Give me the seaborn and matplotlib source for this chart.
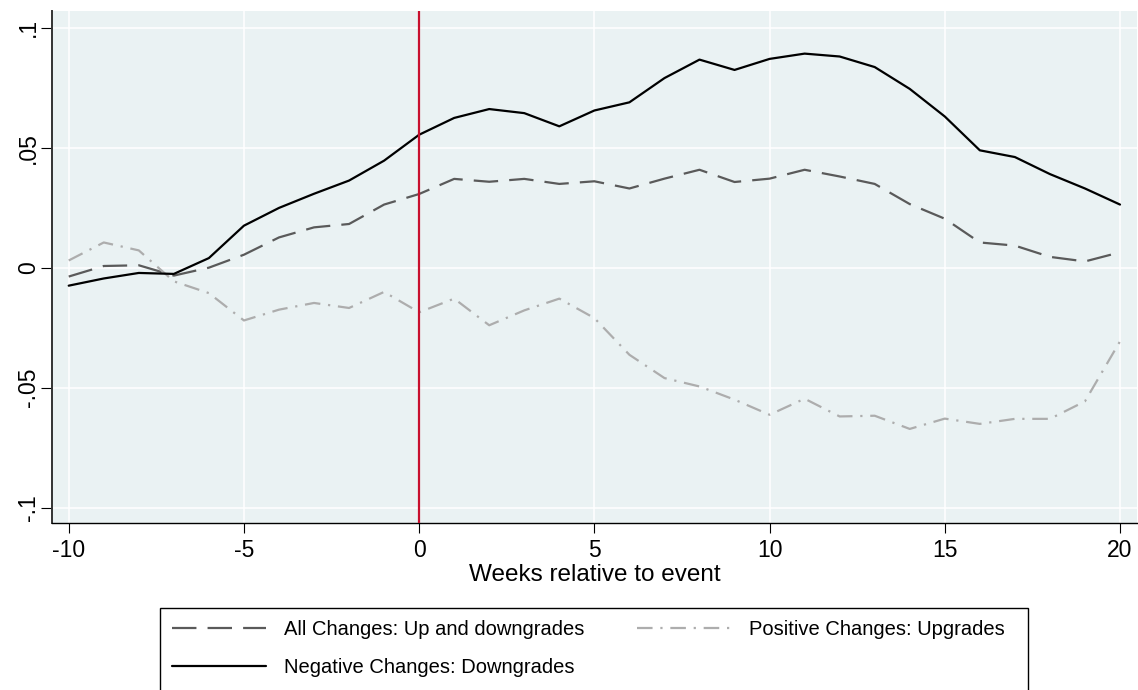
import matplotlib
matplotlib.use("Agg")
import matplotlib.pyplot as plt
from matplotlib.patches import Rectangle
import seaborn as sns
import pandas as pd

# ---- data ----
weeks = list(range(-10, 21))
all_changes = [-0.0037, 0.0007, 0.0010, -0.0033, 0.0000, 0.0054, 0.0126, 0.0168, 0.0182, 0.0263,
               0.0307, 0.0370, 0.0358, 0.0370, 0.0349, 0.0360, 0.0330, 0.0371, 0.0408, 0.0357,
               0.0371, 0.0408, 0.0380, 0.0349, 0.0265, 0.0204, 0.0105, 0.0092, 0.0045, 0.0026,
               0.0064]
positive_changes = [0.0030, 0.0105, 0.0072, -0.0057, -0.0106, -0.0220, -0.0175, -0.0147, -0.0168,
                    -0.0101, -0.0186, -0.0129, -0.0240, -0.0178, -0.0129, -0.0210, -0.0363,
                    -0.0460, -0.0495, -0.0550, -0.0613, -0.0546, -0.0620, -0.0617, -0.0672,
                    -0.0629, -0.0651, -0.0630, -0.0630, -0.0557, -0.0307]
negative_changes = [-0.0075, -0.0045, -0.0022, -0.0026, 0.0040, 0.0175, 0.0249, 0.0308, 0.0363,
                    0.0446, 0.0554, 0.0624, 0.0661, 0.0644, 0.0589, 0.0655, 0.0689, 0.0790,
                    0.0867, 0.0824, 0.0870, 0.0892, 0.0880, 0.0836, 0.0745, 0.0630, 0.0489,
                    0.0461, 0.0390, 0.0330, 0.0263]

labels = ["All Changes: Up and downgrades",
          "Positive Changes: Upgrades",
          "Negative Changes: Downgrades"]
xticks = [-10, -5, 0, 5, 10, 15, 20]
yticks = [0.1, 0.05, 0.0, -0.05, -0.1]
yticklabels = [".1", ".05", "0", "-.05", "-.1"]
xlabel = "Weeks relative to event"
event_week = 0

# ---- style ----
sns.set_theme(style="white")
plt.rcParams["font.family"] = ["Liberation Sans", "DejaVu Sans"]
plt.rcParams["text.color"] = "black"
plt.rcParams["axes.labelcolor"] = "black"
plt.rcParams["xtick.color"] = "black"
plt.rcParams["ytick.color"] = "black"

fig = plt.figure(figsize=(11.38, 6.90), dpi=100)
ax = fig.add_axes([52 / 1138, 1 - 523 / 690, (1137 - 52) / 1138, (523 - 11) / 690])
ax.set_facecolor("#EAF2F3")

df = pd.DataFrame({"week": weeks, "all": all_changes,
                   "pos": positive_changes, "neg": negative_changes})

sns.lineplot(data=df, x="week", y="all", ax=ax, color="#5a5a5a", linewidth=1.6,
             linestyle=(0, (11, 5)), label=labels[0], errorbar=None, zorder=3)
sns.lineplot(data=df, x="week", y="pos", ax=ax, color="#adadad", linewidth=1.6,
             linestyle=(0, (7, 3.5, 1, 3.5)), label=labels[1], errorbar=None, zorder=3)
sns.lineplot(data=df, x="week", y="neg", ax=ax, color="black", linewidth=1.6,
             linestyle="-", label=labels[2], errorbar=None, zorder=4)

ax.axvline(event_week, color="#C8102E", linewidth=1.6, zorder=5)

ax.set_xlim(-10.477, 20.485)
ax.set_ylim(-0.1064, 0.10696)
ax.set_xticks(xticks)
ax.set_xticklabels([str(v) for v in xticks])
ax.set_yticks(yticks)
ax.set_yticklabels(yticklabels, rotation=90, va="center")

ax.grid(True, color="white", linewidth=1.1)
ax.set_axisbelow(True)

for s in ["top", "right"]:
    ax.spines[s].set_visible(False)
ax.spines["left"].set_color("#333333")
ax.spines["left"].set_linewidth(1.4)
ax.spines["bottom"].set_color("black")
ax.spines["bottom"].set_linewidth(1.0)

ax.tick_params(axis="x", which="major", direction="out", length=7.5, width=0.8,
               color="black", labelcolor="black", labelsize=16.5, pad=4.3, bottom=True)
ax.tick_params(axis="y", which="major", direction="out", length=8, width=0.8,
               color="black", labelcolor="black", labelsize=16.5, pad=0.5, left=True)
ax.set_xlabel(xlabel, fontsize=17.5, labelpad=1, color="black")
ax.set_ylabel("")

handles, labs = ax.get_legend_handles_labels()
ax.get_legend().remove()
order = [0, 2, 1]
leg = fig.legend([handles[i] for i in order], [labs[i] for i in order],
                 loc="upper left", bbox_to_anchor=(160 / 1138, 1 - 608 / 690),
                 ncol=2, frameon=False, fontsize=14.5, handlelength=4.67,
                 handletextpad=0.9, columnspacing=2.6, labelspacing=0.95,
                 borderpad=0.6, borderaxespad=0)
for t in leg.get_texts():
    t.set_color("black")

fig.patches.append(Rectangle((160 / 1138, -0.05), (1028 - 160) / 1138, 1 - 608 / 690 + 0.05,
                             transform=fig.transFigure, fill=False, edgecolor="black",
                             linewidth=1.0))

fig.savefig("out.png", dpi=100)
